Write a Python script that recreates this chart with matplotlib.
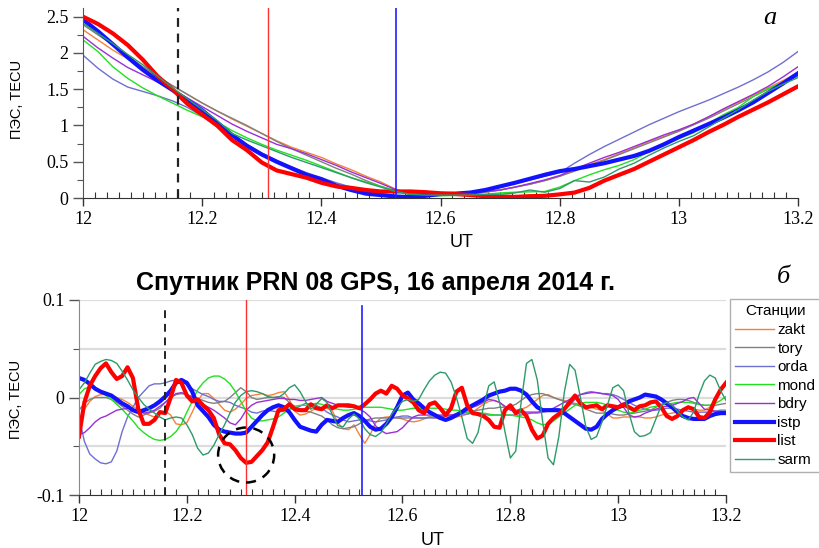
import matplotlib.pyplot as plt
import numpy as np
from matplotlib.patches import Ellipse
from matplotlib.ticker import MultipleLocator, FixedLocator

# station names / colours (legend order)
stations = ['zakt', 'tory', 'orda', 'mond', 'bdry', 'istp', 'list', 'sarm']
colors = ['#f7813a', '#808080', '#6f6fd2', '#22e022', '#9b2fd6', '#1212ff', '#ff0000', '#2e9a6a']
widths = [1.0, 1.0, 1.0, 1.0, 1.0, 3.0, 3.0, 1.0]

# --- panel a: slant TEC, sampled every 0.025 h from 12.00 to 13.20 UT
ut_a = np.linspace(12.0, 13.2, 49)
zakt_tec = [2.32, 2.18, 2.04, 1.92, 1.80, 1.67, 1.55, 1.43, 1.31, 1.20, 1.09, 0.99, 0.89,
            0.79, 0.70, 0.63, 0.56, 0.47, 0.39, 0.30, 0.22, 0.12, 0.06, 0.04, 0.04, 0.05,
            0.06, 0.08, 0.11, 0.15, 0.19, 0.24, 0.30, 0.38, 0.46, 0.53, 0.61, 0.69, 0.78,
            0.85, 0.93, 1.02, 1.12, 1.22, 1.32, 1.42, 1.52, 1.62, 1.73]
tory_tec = [2.39, 2.25, 2.11, 1.96, 1.81, 1.68, 1.55, 1.43, 1.31, 1.20, 1.10, 1.00, 0.89,
            0.78, 0.68, 0.59, 0.50, 0.41, 0.33, 0.24, 0.16, 0.10, 0.06, 0.04, 0.04, 0.05,
            0.06, 0.08, 0.11, 0.15, 0.19, 0.24, 0.30, 0.37, 0.45, 0.52, 0.60, 0.68, 0.76,
            0.84, 0.92, 1.01, 1.10, 1.20, 1.30, 1.40, 1.50, 1.60, 1.70]
orda_tec = [1.97, 1.79, 1.64, 1.53, 1.47, 1.41, 1.34, 1.25, 1.13, 1.00, 0.87, 0.74, 0.62,
            0.52, 0.43, 0.35, 0.28, 0.21, 0.15, 0.10, 0.06, 0.035, 0.02, 0.025, 0.04, 0.06,
            0.08, 0.11, 0.15, 0.20, 0.25, 0.30, 0.35, 0.48, 0.60, 0.71, 0.81, 0.91, 1.01,
            1.10, 1.19, 1.27, 1.35, 1.44, 1.53, 1.63, 1.74, 1.87, 2.02]
mond_tec = [2.18, 2.02, 1.81, 1.65, 1.52, 1.41, 1.31, 1.21, 1.12, 1.05, 0.93, 0.83, 0.74,
            0.66, 0.59, 0.52, 0.44, 0.36, 0.28, 0.22, 0.16, 0.10, 0.04, 0.03, 0.03, 0.035,
            0.04, 0.05, 0.07, 0.08, 0.085, 0.09, 0.15, 0.24, 0.32, 0.39, 0.45, 0.53, 0.64,
            0.73, 0.82, 0.90, 1.03, 1.15, 1.25, 1.40, 1.51, 1.59, 1.68]
bdry_tec = [2.23, 2.07, 1.93, 1.80, 1.70, 1.60, 1.50, 1.38, 1.26, 1.14, 1.02, 0.92, 0.83,
            0.74, 0.68, 0.61, 0.53, 0.45, 0.36, 0.28, 0.20, 0.115, 0.05, 0.03, 0.045, 0.055,
            0.07, 0.09, 0.11, 0.15, 0.20, 0.25, 0.31, 0.40, 0.48, 0.56, 0.63, 0.71, 0.79,
            0.87, 0.94, 1.02, 1.12, 1.23, 1.33, 1.43, 1.54, 1.67, 1.81]
istp_tec = [2.46, 2.30, 2.12, 1.94, 1.77, 1.62, 1.49, 1.35, 1.21, 1.04, 0.87, 0.72, 0.60,
            0.50, 0.41, 0.32, 0.26, 0.17, 0.11, 0.06, 0.04, 0.02, 0.012, 0.03, 0.055, 0.06,
            0.075, 0.11, 0.16, 0.21, 0.265, 0.32, 0.37, 0.40, 0.44, 0.48, 0.53, 0.58, 0.65,
            0.74, 0.84, 0.93, 1.02, 1.11, 1.21, 1.32, 1.45, 1.58, 1.72]
list_tec = [2.50, 2.40, 2.27, 2.11, 1.91, 1.68, 1.50, 1.30, 1.15, 1.00, 0.80, 0.66, 0.49,
            0.38, 0.33, 0.28, 0.21, 0.16, 0.14, 0.11, 0.09, 0.09, 0.09, 0.08, 0.065, 0.055,
            0.04, 0.025, 0.02, 0.015, 0.025, 0.03, 0.05, 0.075, 0.14, 0.24, 0.32, 0.40, 0.50,
            0.60, 0.70, 0.80, 0.91, 1.01, 1.12, 1.22, 1.32, 1.43, 1.54]
sarm_tec = [2.41, 2.27, 2.13, 1.98, 1.84, 1.68, 1.52, 1.37, 1.22, 1.07, 0.89, 0.80, 0.72,
            0.64, 0.56, 0.49, 0.42, 0.35, 0.28, 0.21, 0.15, 0.09, 0.05, 0.04, 0.04, 0.04,
            0.04, 0.05, 0.05, 0.07, 0.11, 0.08, 0.13, 0.24, 0.22, 0.29, 0.40, 0.48, 0.59,
            0.69, 0.78, 0.86, 0.98, 1.10, 1.22, 1.35, 1.47, 1.57, 1.66]

# --- panel b: TEC variations, sampled every 0.01 h from 12.00 to 13.20 UT
ut_b = np.linspace(12.0, 13.2, 121)
zakt_dev = [-0.022, -0.012, -0.004, 0.001, 0.003, 0.003, 0.002, 0.000, -0.002, -0.005,
            -0.009, -0.013, -0.016, -0.018, -0.020, -0.016, -0.014, -0.018, -0.027, -0.028,
            -0.026, -0.015, -0.003, 0.004, 0.004, -0.001, -0.007, -0.013, -0.015, -0.012,
            -0.007, -0.001, 0.002, 0.003, 0.004, 0.002, 0.003, 0.005, 0.006, -0.002,
            -0.014, -0.018, -0.017, -0.014, -0.011, -0.010, -0.011, -0.014, -0.026, -0.032,
            -0.033, -0.028, -0.038, -0.047, -0.038, -0.026, -0.021, -0.020, -0.020, -0.021,
            -0.022, -0.024, -0.025, -0.024, -0.022, -0.020, -0.021, -0.022, -0.023, -0.022,
            -0.020, -0.019, -0.017, -0.015, -0.011, -0.007, -0.004, -0.003, -0.005, -0.010,
            -0.012, -0.013, -0.012, -0.010, -0.006, -0.002, 0.002, 0.003, 0.000, -0.002,
            -0.003, -0.005, -0.006, -0.007, -0.009, -0.010, -0.012, -0.013, -0.017, -0.021,
            -0.021, -0.020, -0.020, -0.020, -0.020, -0.021, -0.021, -0.020, -0.018, -0.017,
            -0.016, -0.015, -0.013, -0.011, -0.012, -0.013, -0.013, -0.010, -0.002, 0.008,
            0.013]
tory_dev = [-0.013, -0.006, -0.002, 0.000, 0.000, 0.000, -0.002, -0.005, -0.009, -0.013,
            -0.017, -0.020, -0.018, -0.016, -0.014, -0.011, -0.005, 0.000, 0.003, 0.004,
            0.003, 0.001, -0.001, -0.003, -0.005, -0.006, -0.005, -0.004, 0.000, 0.005,
            0.010, 0.006, 0.000, -0.002, -0.001, 0.000, 0.000, 0.001, 0.000, -0.005,
            -0.009, -0.012, -0.014, -0.015, -0.017, -0.019, -0.023, -0.028, -0.031, -0.032,
            -0.031, -0.030, -0.027, -0.024, -0.022, -0.021, -0.021, -0.021, -0.021, -0.021,
            -0.021, -0.021, -0.021, -0.021, -0.021, -0.020, -0.020, -0.019, -0.019, -0.018,
            -0.017, -0.016, -0.015, -0.014, -0.013, -0.012, -0.011, -0.011, -0.010, -0.010,
            -0.009, -0.007, -0.003, 0.001, 0.003, 0.004, 0.004, 0.002, 0.000, -0.002,
            -0.004, -0.006, -0.007, -0.009, -0.012, -0.014, -0.016, -0.016, -0.016, -0.017,
            -0.018, -0.018, -0.017, -0.016, -0.015, -0.014, -0.013, -0.010, -0.007, -0.005,
            -0.003, -0.002, -0.002, -0.003, -0.005, -0.007, -0.008, -0.008, -0.008, -0.007,
            -0.006]
orda_dev = [-0.020, -0.045, -0.058, -0.063, -0.067, -0.068, -0.066, -0.055, -0.035, -0.020,
            -0.010, 0.000, 0.006, 0.012, 0.014, 0.014, 0.015, 0.017, 0.018, 0.017,
            0.013, 0.009, 0.006, 0.003, 0.001, -0.002, -0.004, -0.004, -0.005, -0.008,
            -0.010, -0.012, -0.015, -0.016, -0.014, -0.013, -0.014, -0.015, -0.014, -0.012,
            -0.011, -0.009, -0.006, -0.007, -0.008, -0.011, -0.015, -0.018, -0.020, -0.023,
            -0.025, -0.024, -0.023, -0.023, -0.024, -0.025, -0.024, -0.023, -0.021, -0.020,
            -0.019, -0.019, -0.021, -0.021, -0.021, -0.021, -0.021, -0.020, -0.019, -0.019,
            -0.018, -0.017, -0.017, -0.016, -0.016, -0.017, -0.018, -0.018, -0.018, -0.018,
            -0.018, -0.018, -0.018, -0.017, -0.016, -0.016, -0.015, -0.014, -0.013, -0.013,
            -0.010, -0.008, -0.002, 0.003, 0.005, 0.006, 0.005, 0.004, 0.004, 0.003,
            0.001, -0.002, -0.005, -0.008, -0.010, -0.012, -0.013, -0.013, -0.012, -0.011,
            -0.011, -0.012, -0.013, -0.014, -0.015, -0.015, -0.015, -0.015, -0.014, -0.013,
            -0.013]
mond_dev = [0.003, 0.009, 0.011, 0.009, 0.006, 0.002, -0.002, -0.007, -0.012, -0.018,
            -0.024, -0.031, -0.036, -0.040, -0.043, -0.044, -0.043, -0.040, -0.035, -0.027,
            -0.015, -0.004, 0.008, 0.015, 0.020, 0.022, 0.022, 0.019, 0.014, 0.006,
            -0.004, -0.014, -0.021, -0.024, -0.024, -0.023, -0.022, -0.020, -0.016, -0.012,
            -0.009, -0.008, -0.008, -0.007, -0.006, -0.007, -0.009, -0.011, -0.012, -0.013,
            -0.013, -0.012, -0.011, -0.010, -0.010, -0.010, -0.010, -0.011, -0.012, -0.013,
            -0.013, -0.012, -0.011, -0.011, -0.011, -0.011, -0.011, -0.011, -0.012, -0.013,
            -0.013, -0.014, -0.015, -0.015, -0.016, -0.016, -0.017, -0.018, -0.018, -0.018,
            -0.018, -0.019, -0.020, -0.021, -0.023, -0.026, -0.028, -0.027, -0.024, -0.020,
            -0.016, -0.012, -0.008, -0.006, -0.005, -0.005, -0.005, -0.006, -0.008, -0.011,
            -0.013, -0.015, -0.016, -0.015, -0.013, -0.012, -0.010, -0.009, -0.008, -0.007,
            -0.006, -0.005, -0.005, -0.005, -0.006, -0.007, -0.008, -0.008, -0.006, -0.003,
            0.001]
bdry_dev = [-0.038, -0.036, -0.031, -0.025, -0.021, -0.019, -0.016, -0.013, -0.012, -0.011,
            -0.012, -0.014, -0.016, -0.015, -0.013, -0.009, -0.005, 0.000, 0.004, 0.005,
            0.003, 0.000, -0.004, -0.007, -0.010, -0.013, -0.017, -0.021, -0.026, -0.028,
            -0.022, -0.013, -0.008, -0.005, -0.004, -0.003, -0.002, -0.001, -0.001, -0.002,
            -0.002, -0.003, -0.003, -0.002, -0.001, 0.000, -0.004, -0.006, -0.008, -0.009,
            -0.010, -0.010, -0.012, -0.015, -0.020, -0.029, -0.034, -0.037, -0.036, -0.035,
            -0.031, -0.025, -0.020, -0.018, -0.018, -0.018, -0.018, -0.018, -0.018, -0.018,
            -0.017, -0.015, -0.013, -0.010, -0.008, -0.005, -0.002, -0.003, -0.005, -0.009,
            -0.013, -0.014, -0.015, -0.015, -0.015, -0.015, -0.014, -0.013, -0.011, -0.008,
            -0.005, -0.002, 0.001, 0.003, 0.004, 0.005, 0.005, 0.004, 0.003, 0.002,
            -0.002, -0.010, -0.018, -0.020, -0.019, -0.016, -0.014, -0.012, -0.010, -0.009,
            -0.008, -0.006, -0.004, -0.001, 0.000, -0.006, -0.012, -0.013, -0.014, -0.015,
            -0.015]
istp_dev = [0.020, 0.018, 0.014, 0.009, 0.006, 0.004, 0.002, -0.002, -0.006, -0.009,
            -0.013, -0.015, -0.013, -0.011, -0.008, -0.004, 0.001, 0.007, 0.015, 0.018,
            0.015, 0.006, -0.008, -0.014, -0.020, -0.028, -0.033, -0.035, -0.036, -0.037,
            -0.037, -0.036, -0.030, -0.024, -0.018, -0.013, -0.010, -0.008, -0.010, -0.015,
            -0.023, -0.030, -0.032, -0.034, -0.035, -0.028, -0.023, -0.024, -0.025, -0.021,
            -0.018, -0.016, -0.019, -0.024, -0.030, -0.033, -0.032, -0.027, -0.020, -0.010,
            0.002, 0.005, -0.002, -0.006, -0.011, -0.015, -0.018, -0.021, -0.023, -0.021,
            -0.018, -0.015, -0.011, -0.008, -0.005, -0.002, 0.002, 0.004, 0.006, 0.007,
            0.009, 0.009, 0.007, 0.003, -0.004, -0.010, -0.013, -0.013, -0.013, -0.013,
            -0.016, -0.020, -0.024, -0.028, -0.032, -0.033, -0.030, -0.022, -0.017, -0.013,
            -0.010, -0.008, -0.004, -0.002, 0.000, 0.003, 0.002, 0.001, -0.002, -0.006,
            -0.010, -0.015, -0.019, -0.021, -0.022, -0.022, -0.022, -0.019, -0.017, -0.016,
            -0.016]
list_dev = [-0.040, -0.005, 0.012, 0.022, 0.030, 0.035, 0.026, 0.019, 0.022, 0.031,
            0.020, -0.012, -0.027, -0.027, -0.023, -0.015, -0.016, 0.000, 0.018, 0.015,
            0.002, -0.004, -0.002, -0.008, -0.013, -0.021, -0.038, -0.047, -0.048, -0.054,
            -0.062, -0.067, -0.066, -0.060, -0.054, -0.046, -0.030, -0.013, -0.012, -0.007,
            -0.012, -0.013, -0.013, -0.007, -0.011, -0.012, -0.008, -0.011, -0.008, -0.008,
            -0.008, -0.009, -0.011, -0.007, -0.002, 0.004, 0.007, 0.004, 0.012, 0.009,
            0.002, -0.001, -0.005, -0.013, -0.016, -0.007, -0.005, -0.011, -0.018, -0.011,
            0.006, 0.010, -0.008, -0.016, -0.017, -0.019, -0.023, -0.030, -0.031, -0.013,
            -0.008, -0.016, -0.013, -0.019, -0.033, -0.042, -0.039, -0.027, -0.021, -0.017,
            -0.012, -0.005, 0.002, -0.006, -0.010, -0.009, -0.008, -0.012, -0.008, -0.009,
            -0.010, -0.007, -0.010, -0.013, -0.009, -0.008, -0.005, -0.004, -0.010, -0.019,
            -0.022, -0.019, -0.013, -0.010, -0.012, -0.020, -0.021, -0.015, -0.002, 0.008,
            0.015]
sarm_dev = [0.008, 0.015, 0.025, 0.034, 0.037, 0.039, 0.038, 0.035, 0.027, 0.018,
            0.008, 0.000, -0.007, -0.012, -0.016, -0.020, -0.023, -0.021, -0.020, -0.021,
            -0.028, -0.038, -0.052, -0.059, -0.057, -0.049, -0.038, -0.028, -0.016, -0.005,
            0.002, 0.006, 0.007, 0.006, 0.004, 0.001, 0.000, 0.000, 0.004, 0.010,
            0.013, 0.006, -0.004, -0.012, -0.007, -0.001, -0.005, -0.018, -0.029, -0.030,
            -0.022, -0.017, -0.022, -0.032, -0.038, -0.040, -0.036, -0.027, -0.017, -0.010,
            -0.004, -0.002, -0.004, -0.002, 0.008, 0.017, 0.023, 0.026, 0.025, 0.016,
            0.000, -0.020, -0.042, -0.047, -0.036, -0.010, 0.012, 0.016, -0.005, -0.035,
            -0.062, -0.055, -0.005, 0.035, 0.039, 0.018, -0.025, -0.062, -0.069, -0.040,
            0.005, 0.034, 0.028, 0.000, -0.030, -0.043, -0.040, -0.025, -0.008, 0.010,
            0.013, 0.007, -0.016, -0.035, -0.040, -0.039, -0.036, -0.022, -0.008, -0.005,
            -0.008, -0.014, -0.020, -0.023, -0.015, 0.003, 0.017, 0.023, 0.020, 0.007,
            -0.003]

tec_a = [zakt_tec, tory_tec, orda_tec, mond_tec, bdry_tec, istp_tec, list_tec, sarm_tec]
dev_b = [zakt_dev, tory_dev, orda_dev, mond_dev, bdry_dev, istp_dev, list_dev, sarm_dev]

# marker times (UT)
t_black, t_red, t_blue = 12.16, 12.31, 12.525

sans = ['Liberation Sans', 'DejaVu Sans']
serif = ['Liberation Serif', 'DejaVu Serif']

fig = plt.figure(figsize=(8.2, 5.48), dpi=100)

# ---------------- panel a ----------------
ax1 = fig.add_axes([83 / 820, 1 - 198 / 548, 715 / 820, 190 / 548])
for y, c, w in zip(tec_a, colors, widths):
    ax1.plot(ut_a, y, color=c, lw=w)
ax1.axvline(t_black, color='#222222', lw=1.6, ls=(0, (4, 3)))
ax1.axvline(t_red, color='#ff3030', lw=1.0)
ax1.axvline(t_blue, color='#2020ff', lw=1.2)
ax1.set_xlim(12, 13.2)
ax1.set_ylim(0, 2.62)
ax1.yaxis.set_major_locator(FixedLocator([0, 0.5, 1, 1.5, 2, 2.5]))
ax1.yaxis.set_minor_locator(FixedLocator([0.25, 0.75, 1.25, 1.75, 2.25]))
ax1.set_yticklabels(['0', '0.5', '1', '1.5', '2', '2.5'])
ax1.text(0.96, 0.95, 'а', transform=ax1.transAxes, fontsize=19, style='italic',
         family=serif, ha='center', va='center')
ax1.set_ylabel('ПЭС, TECU', fontsize=10.5, family=sans)
ax1.yaxis.set_label_coords(-0.082, 0.52)
ax1.set_xlabel('UT', fontsize=13, family=sans)
ax1.xaxis.set_label_coords(0.53, -0.19)

# ---------------- panel b ----------------
ax2 = fig.add_axes([79 / 820, 1 - 495 / 548, 647 / 820, 195 / 548])
for gy in [0.1, 0.05, 0, -0.05]:
    ax2.axhline(gy, color='#dcdcdc', lw=1.6, zorder=0)
lines = []
for y, c, w in zip(dev_b, colors, widths):
    ln, = ax2.plot(ut_b, y, color=c, lw=w)
    lines.append(ln)
ax2.axvline(t_black, ymax=0.95, color='#222222', lw=1.4, ls=(0, (4, 3)))
ax2.axvline(t_red, color='#ff3030', lw=1.0)
ax2.axvline(t_blue, ymax=0.97, color='#2020ff', lw=1.2)
ax2.add_patch(Ellipse((12.31, -0.059), 0.104, 0.0564, fill=False, ec='black',
                      lw=1.8, ls=(0, (4, 3)), zorder=5))
ax2.set_xlim(12, 13.2)
ax2.set_ylim(-0.1, 0.1)
ax2.yaxis.set_major_locator(FixedLocator([-0.1, 0, 0.1]))
ax2.yaxis.set_minor_locator(FixedLocator([-0.05, 0.05]))
ax2.set_yticklabels(['-0.1', '0', '0.1'])
ax2.set_ylabel('ПЭС, TECU', fontsize=10.5, family=sans)
ax2.yaxis.set_label_coords(-0.086, 0.49)
ax2.set_xlabel('UT', fontsize=13, family=sans)
ax2.xaxis.set_label_coords(0.546, -0.19)

for ax in (ax1, ax2):
    ax.spines['top'].set_visible(False)
    ax.spines['right'].set_visible(False)
    ax.xaxis.set_major_locator(MultipleLocator(0.2))
    ax.xaxis.set_minor_locator(MultipleLocator(0.02))
    ax.set_xticks([12, 12.2, 12.4, 12.6, 12.8, 13, 13.2])
    ax.set_xticklabels(['12', '12.2', '12.4', '12.6', '12.8', '13', '13.2'])
    ax.tick_params(axis='x', which='major', direction='out', length=6, width=1,
                   labelsize=13, labelfontfamily='Liberation Serif', color='#333333')
    ax.tick_params(axis='x', which='minor', direction='in', length=4, width=0.8,
                   color='#333333')
    ax.tick_params(axis='y', which='major', direction='out', length=7, width=1,
                   labelsize=13, labelfontfamily='Liberation Serif', color='#555555')
    ax.tick_params(axis='y', which='minor', direction='out', length=4, width=0.8,
                   color='#555555')
    ax.spines['bottom'].set_color('#333333')
ax1.spines['left'].set_color('#555555')
ax2.spines['left'].set_color('#888888')

fig.text(376 / 820, 1 - 283 / 548, 'Спутник PRN 08 GPS, 16 апреля 2014 г.',
         ha='center', va='center', fontsize=18, fontweight='bold',
         family=['Liberation Sans Narrow', 'Liberation Sans', 'DejaVu Sans'])
fig.text(783 / 820, 1 - 277 / 548, 'б', fontsize=19, style='italic', family=serif,
         ha='center', va='center')

leg = fig.legend(lines, stations, title='Станции', loc='upper left',
                 bbox_to_anchor=(730 / 820, 1 - 299 / 548), fancybox=False,
                 edgecolor='#b0b0b0', framealpha=1,
                 handlelength=2.5, handletextpad=0.25, labelspacing=0.3,
                 borderpad=0.35, borderaxespad=0, prop={'family': sans, 'size': 11})
leg.get_title().set_family(sans)
leg.get_title().set_fontsize(11)

fig.savefig('out.png', dpi=100)
